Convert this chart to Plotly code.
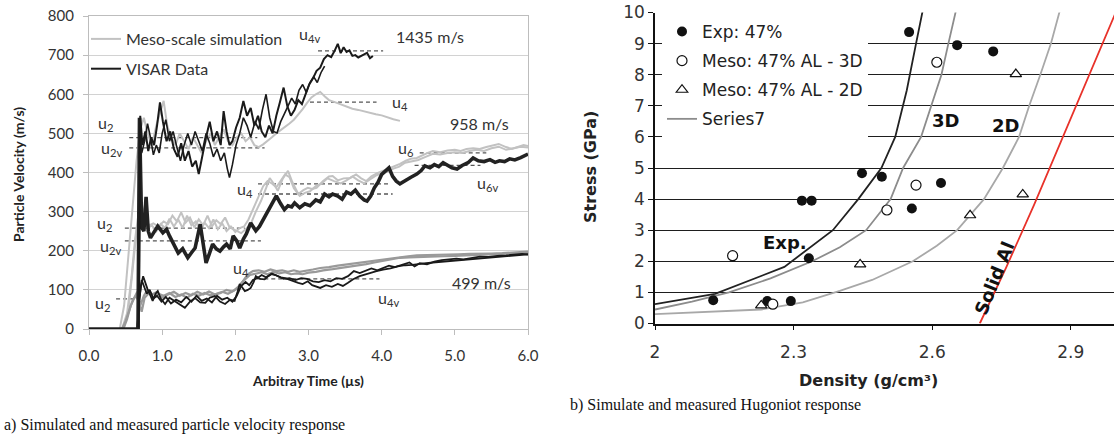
import plotly.graph_objects as go

# ---------------- (a) particle velocity data: (time us, velocity m/s) ----------------
visar_1435_a = [(0,0),(0.64,0),(0.68,0),(0.70,545),(0.73,470),(0.77,505),(0.81,455),(0.85,490),(0.89,470),(0.93,520),(0.97,579),(1.01,530),(1.06,480),(1.11,505),(1.16,460),(1.21,440),(1.26,475),(1.31,430),(1.36,455),(1.41,415),(1.46,430),(1.50,396),(1.55,445),(1.60,490),(1.65,530),(1.70,480),(1.75,505),(1.80,470),(1.84,557),(1.88,505),(1.92,470),(1.96,480),(2.01,515),(2.06,540),(2.11,583),(2.16,545),(2.21,565),(2.26,520),(2.31,545),(2.36,505),(2.41,490),(2.46,520),(2.51,500),(2.56,545),(2.61,580),(2.66,617),(2.71,570),(2.76,545),(2.81,560),(2.86,585),(2.91,575),(2.96,600),(3.01,625),(3.06,640),(3.11,660),(3.16,668),(3.21,690),(3.26,700),(3.31,695),(3.36,712),(3.40,729),(3.44,705),(3.48,720),(3.52,708),(3.56,712),(3.60,698),(3.64,700),(3.68,694),(3.72,697),(3.76,702),(3.80,706),(3.84,692),(3.88,698)]
visar_1435_b = [(0,0),(0.64,0),(0.67,0),(0.69,510),(0.72,450),(0.76,480),(0.80,525),(0.84,490),(0.88,445),(0.92,470),(0.96,450),(1.00,500),(1.05,535),(1.10,480),(1.15,505),(1.20,465),(1.25,430),(1.30,470),(1.35,500),(1.40,470),(1.45,505),(1.50,480),(1.55,455),(1.60,500),(1.65,475),(1.70,440),(1.75,460),(1.80,430),(1.85,450),(1.89,410),(1.92,387),(1.96,420),(2.01,470),(2.06,500),(2.11,540),(2.16,520),(2.21,490),(2.27,530),(2.32,510),(2.37,560),(2.42,600),(2.47,540),(2.52,505),(2.57,501),(2.62,530),(2.67,550),(2.72,570),(2.77,590),(2.82,575),(2.87,610),(2.92,625),(2.97,605),(3.02,630),(3.07,645),(3.12,630),(3.17,655),(3.22,672)]
meso_1435 = [(0,0),(0.42,0),(0.48,60),(0.54,190),(0.60,320),(0.65,430),(0.70,510),(0.75,540),(0.80,500),(0.86,470),(0.92,520),(0.98,560),(1.02,583),(1.07,520),(1.12,490),(1.18,470),(1.24,500),(1.30,480),(1.36,460),(1.42,490),(1.48,470),(1.54,450),(1.60,480),(1.66,500),(1.72,470),(1.78,490),(1.84,510),(1.90,480),(1.96,470),(2.02,490),(2.08,500),(2.14,480),(2.20,490),(2.26,470),(2.32,465),(2.38,472),(2.44,480),(2.50,490),(2.56,500),(2.62,508),(2.68,515),(2.74,525),(2.80,535),(2.86,548),(2.92,562),(2.98,578),(3.04,592),(3.10,600),(3.16,606),(3.22,595),(3.28,585),(3.36,580),(3.44,574),(3.52,570),(3.60,563),(3.68,560),(3.76,556),(3.84,552),(3.92,549),(4.00,546),(4.08,540),(4.16,536),(4.25,532)]

visar_958 = [(0,0),(0.64,0),(0.67,0),(0.69,540),(0.72,260),(0.75,250),(0.78,338),(0.81,250),(0.84,233),(0.88,245),(0.94,263),(1.01,246),(1.06,255),(1.10,238),(1.16,215),(1.22,194),(1.28,205),(1.35,182),(1.40,195),(1.45,207),(1.52,268),(1.56,215),(1.60,169),(1.65,195),(1.69,217),(1.74,205),(1.79,199),(1.84,210),(1.88,217),(1.93,205),(1.97,238),(2.02,225),(2.06,207),(2.11,230),(2.15,243),(2.21,271),(2.28,251),(2.33,262),(2.37,276),(2.42,290),(2.47,310),(2.52,325),(2.56,340),(2.62,320),(2.67,305),(2.72,315),(2.77,312),(2.81,322),(2.88,310),(2.95,320),(3.02,315),(3.10,330),(3.16,325),(3.22,345),(3.28,338),(3.33,345),(3.40,340),(3.46,332),(3.52,350),(3.58,345),(3.64,355),(3.70,340),(3.76,330),(3.80,327),(3.85,340),(3.90,361),(3.95,375),(4.00,395),(4.05,405),(4.10,412),(4.15,390),(4.20,378),(4.25,371),(4.32,380),(4.40,388),(4.48,396),(4.54,405),(4.59,417),(4.66,412),(4.72,420),(4.78,415),(4.84,425),(4.90,418),(4.96,412),(5.03,409),(5.10,418),(5.18,425),(5.25,437),(5.32,430),(5.40,428),(5.48,433),(5.55,426),(5.61,430),(5.68,428),(5.75,435),(5.82,432),(5.90,438),(6.00,447)]
meso_958_a = [(0,0),(0.45,0),(0.52,40),(0.58,130),(0.63,230),(0.68,300),(0.72,320),(0.76,290),(0.82,265),(0.88,270),(0.95,262),(1.02,275),(1.08,268),(1.14,290),(1.20,275),(1.26,298),(1.32,272),(1.38,285),(1.44,260),(1.50,280),(1.56,265),(1.62,290),(1.68,262),(1.74,278),(1.80,268),(1.86,285),(1.92,260),(1.98,255),(2.04,250),(2.08,245),(2.14,255),(2.21,268),(2.28,300),(2.35,327),(2.42,360),(2.47,386),(2.53,370),(2.58,353),(2.65,385),(2.72,404),(2.78,375),(2.86,345),(2.93,355),(2.99,361),(3.05,358),(3.11,361),(3.20,378),(3.28,390),(3.33,391),(3.40,380),(3.48,385),(3.57,386),(3.65,395),(3.72,385),(3.79,378),(3.86,390),(3.94,398),(4.02,404),(4.10,410),(4.18,418),(4.25,422),(4.33,430),(4.40,435),(4.48,437),(4.56,445),(4.63,450),(4.70,455),(4.80,452),(4.90,456),(5.00,458),(5.08,455),(5.16,460),(5.25,462),(5.34,460),(5.43,465),(5.52,470),(5.60,473),(5.70,465),(5.78,460),(5.86,465),(5.94,470),(6.00,468)]
meso_958_b = [(0,0),(0.47,0),(0.54,50),(0.60,150),(0.65,250),(0.70,295),(0.74,280),(0.80,258),(0.86,265),(0.92,250),(0.98,268),(1.04,258),(1.10,282),(1.16,262),(1.22,280),(1.28,258),(1.34,290),(1.40,265),(1.46,275),(1.52,252),(1.58,272),(1.64,258),(1.70,280),(1.76,255),(1.82,270),(1.88,250),(1.94,262),(2.00,248),(2.06,258),(2.12,262),(2.18,280),(2.25,310),(2.32,340),(2.38,365),(2.44,378),(2.50,372),(2.56,362),(2.62,378),(2.68,395),(2.74,388),(2.80,360),(2.88,340),(2.95,348),(3.02,352),(3.10,365),(3.18,372),(3.26,385),(3.35,378),(3.44,372),(3.52,380),(3.60,390),(3.68,380),(3.76,372),(3.84,382),(3.92,392),(4.00,398),(4.08,402),(4.16,410),(4.24,415),(4.32,425),(4.40,428),(4.50,432),(4.60,440),(4.70,448),(4.80,446),(4.90,450),(5.00,452),(5.10,450),(5.20,455),(5.30,458),(5.40,455),(5.50,462),(5.60,466),(5.70,458),(5.80,462),(5.90,466),(6.00,464)]

visar_499_a = [(0,0),(0.64,0),(0.66,0),(0.68,60),(0.71,110),(0.74,135),(0.77,115),(0.80,102),(0.84,85),(0.87,72),(0.91,90),(0.94,97),(0.98,78),(1.04,64),(1.10,80),(1.17,72),(1.24,62),(1.31,54),(1.38,70),(1.45,79),(1.52,68),(1.59,67),(1.65,80),(1.72,84),(1.79,70),(1.86,64),(1.93,75),(1.99,72),(2.03,95),(2.06,115),(2.10,105),(2.13,97),(2.17,100),(2.21,105),(2.25,120),(2.28,135),(2.34,128),(2.40,127),(2.45,135),(2.49,140),(2.55,138),(2.62,132),(2.68,130),(2.75,125),(2.81,120),(2.86,118),(2.92,115),(2.99,122),(3.05,112),(3.10,108),(3.16,105),(3.24,112),(3.32,108),(3.40,115),(3.47,110),(3.54,118),(3.61,127),(3.70,135),(3.78,140),(3.86,145),(3.93,148),(4.02,152),(4.12,155),(4.22,160),(4.32,163),(4.42,164),(4.48,166),(4.58,168),(4.70,170),(4.82,172),(4.93,174),(5.05,176),(5.18,178),(5.30,180),(5.38,182),(5.50,184),(5.62,186),(5.75,187),(5.88,189),(6.00,191)]
visar_499_b = [(0,0),(0.64,0),(0.66,0),(0.69,80),(0.72,125),(0.75,110),(0.79,90),(0.83,100),(0.88,78),(0.93,85),(0.99,70),(1.05,82),(1.12,65),(1.19,75),(1.26,68),(1.33,82),(1.40,70),(1.47,85),(1.54,72),(1.61,78),(1.68,68),(1.75,85),(1.82,75),(1.89,80),(1.96,70),(2.02,85),(2.08,110),(2.14,120),(2.19,112),(2.24,125),(2.30,130),(2.36,138),(2.42,132),(2.50,142),(2.58,135),(2.66,128),(2.74,130),(2.82,125),(2.90,130),(2.98,128),(3.06,122),(3.14,120),(3.22,125),(3.30,122),(3.38,130),(3.46,128),(3.54,135),(3.62,148),(3.70,143),(3.78,150),(3.86,155),(3.94,150),(4.02,156),(4.10,162),(4.18,158),(4.28,165),(4.38,170),(4.45,160),(4.52,168),(4.62,165),(4.72,172),(4.82,176),(4.92,178),(5.02,180),(5.12,178),(5.22,182),(5.34,185),(5.46,184),(5.58,187),(5.70,188),(5.82,190),(5.92,192),(6.00,190)]
meso_499_a = [(0,0),(0.45,0),(0.50,20),(0.55,50),(0.60,75),(0.64,85),(0.68,70),(0.72,44),(0.76,80),(0.82,92),(0.88,80),(0.95,90),(1.02,85),(1.10,92),(1.18,82),(1.26,88),(1.34,80),(1.42,90),(1.50,85),(1.58,92),(1.66,86),(1.74,90),(1.82,95),(1.90,90),(1.98,98),(2.05,110),(2.12,125),(2.20,138),(2.28,142),(2.36,145),(2.44,140),(2.52,146),(2.60,142),(2.68,145),(2.76,140),(2.84,142),(2.92,140),(3.00,144),(3.10,146),(3.20,150),(3.33,153),(3.45,156),(3.56,160),(3.68,163),(3.79,166),(3.90,170),(4.02,174),(4.14,178),(4.25,182),(4.38,183),(4.50,184),(4.62,186),(4.70,185),(4.85,186),(5.00,187),(5.15,188),(5.30,189),(5.45,190),(5.60,191),(5.75,192),(5.90,194),(6.00,195)]
meso_499_b = [(0,0),(0.47,0),(0.52,25),(0.57,60),(0.62,80),(0.66,95),(0.70,60),(0.75,85),(0.80,100),(0.86,88),(0.93,95),(1.00,80),(1.08,88),(1.16,95),(1.24,85),(1.32,92),(1.40,86),(1.48,95),(1.56,88),(1.64,96),(1.72,88),(1.80,92),(1.88,100),(1.96,96),(2.04,105),(2.10,120),(2.17,140),(2.24,148),(2.32,150),(2.40,146),(2.48,152),(2.56,148),(2.64,150),(2.72,146),(2.80,150),(2.88,146),(2.96,148),(3.06,152),(3.16,156),(3.28,158),(3.40,162),(3.52,165),(3.64,168),(3.76,172),(3.88,175),(4.00,178),(4.12,180),(4.24,183),(4.36,186),(4.48,188),(4.60,189),(4.75,190),(4.90,190),(5.05,191),(5.20,192),(5.35,192),(5.50,193),(5.65,194),(5.80,195),(5.92,197),(6.00,198)]

# dashed plateau markers: level (m/s), start and end time (us)
ref_level = [489, 463, 580, 711, 258, 225, 371, 345, 450, 418, 77, 128]
ref_t0    = [0.55, 0.55, 3.02, 3.13, 0.49, 0.49, 2.31, 2.31, 4.52, 4.45, 0.37, 2.30]
ref_t1    = [2.30, 2.40, 3.93, 4.02, 2.13, 2.35, 4.11, 4.15, 5.43, 5.35, 0.63, 3.97]

# ---------------- (b) Hugoniot data ----------------
exp_density = [2.550, 2.654, 2.732, 2.448, 2.491, 2.619, 2.318, 2.339, 2.556, 2.333, 2.126, 2.243, 2.294]
exp_stress  = [9.37, 8.95, 8.75, 4.83, 4.72, 4.52, 3.95, 3.95, 3.70, 2.10, 0.75, 0.72, 0.72]
meso3d_density = [2.610, 2.565, 2.502, 2.168, 2.255]
meso3d_stress  = [8.40, 4.45, 3.65, 2.18, 0.62]
meso2d_density = [2.781, 2.796, 2.682, 2.444, 2.230]
meso2d_stress  = [8.02, 4.15, 3.48, 1.90, 0.58]

expfit_density = [2.0, 2.13, 2.28, 2.385, 2.44, 2.49, 2.52, 2.545, 2.565, 2.58]
expfit_stress  = [0.62, 0.95, 1.82, 3.0, 4.0, 5.0, 6.0, 7.5, 9.0, 10.1]
fit3d_density = [2.0, 2.08, 2.16, 2.25, 2.34, 2.40, 2.457, 2.51, 2.537, 2.576, 2.598, 2.62, 2.635, 2.652]
fit3d_stress  = [0.45, 0.7, 1.0, 1.45, 2.0, 2.45, 3.0, 4.0, 5.0, 6.0, 7.0, 8.0, 9.0, 10.1]
fit2d_density = [2.0, 2.12, 2.23, 2.32, 2.40, 2.47, 2.52, 2.558, 2.61, 2.654, 2.712, 2.753, 2.788, 2.81, 2.834, 2.857, 2.877]
fit2d_stress  = [0.3, 0.38, 0.45, 0.68, 1.05, 1.4, 1.75, 2.0, 2.5, 3.0, 4.0, 5.0, 6.0, 7.0, 8.0, 9.0, 10.1]
solid_density = [2.703, 2.760, 2.820, 2.880, 2.940, 3.000]
solid_stress  = [0.0, 1.8, 3.8, 5.9, 8.0, 10.1]

W, H = 1114, 436
L_FONT = "Lato"
R_FONT = "DejaVu Sans"


def split(pairs):
    return [p[0] for p in pairs], [p[1] for p in pairs]


fig = go.Figure()

# dashed reference plateaus
for lv, a, b in zip(ref_level, ref_t0, ref_t1):
    fig.add_trace(go.Scatter(x=[a, b], y=[lv, lv], mode="lines", xaxis="x", yaxis="y",
                             line=dict(color="#555555", width=1.3, dash="4px,3px"),
                             showlegend=False, hoverinfo="skip"))

LIGHT = "#c2c2c2"
MID = "#9a9a9a"
for series, col, w in [(meso_958_b, LIGHT, 2.0), (meso_958_a, LIGHT, 2.0),
                       (meso_499_b, MID, 2.2), (meso_499_a, MID, 2.2)]:
    x, y = split(series)
    fig.add_trace(go.Scatter(x=x, y=y, mode="lines", xaxis="x", yaxis="y",
                             line=dict(color=col, width=w), showlegend=False))
x, y = split(meso_1435)
fig.add_trace(go.Scatter(x=x, y=y, mode="lines", xaxis="x", yaxis="y", name="Meso-scale simulation",
                         line=dict(color=LIGHT, width=2.0), legend="legend", legendgroup="g1"))

for series, w in [(visar_499_a, 1.8), (visar_499_b, 1.8), (visar_1435_b, 1.6)]:
    x, y = split(series)
    fig.add_trace(go.Scatter(x=x, y=y, mode="lines", xaxis="x", yaxis="y",
                             line=dict(color="#1a1a1a", width=w), showlegend=False))
x, y = split(visar_958)
fig.add_trace(go.Scatter(x=x, y=y, mode="lines", xaxis="x", yaxis="y",
                         line=dict(color="#222222", width=3.6), showlegend=False))
x, y = split(visar_1435_a)
fig.add_trace(go.Scatter(x=x, y=y, mode="lines", xaxis="x", yaxis="y", name="VISAR Data",
                         line=dict(color="#1a1a1a", width=2.0), legend="legend", legendgroup="g2"))

# ---------- right panel ----------
fig.add_trace(go.Scatter(x=solid_density, y=solid_stress, mode="lines", xaxis="x2", yaxis="y2",
                         line=dict(color="#e8322a", width=1.8), showlegend=False))
fig.add_trace(go.Scatter(x=fit2d_density, y=fit2d_stress, mode="lines", xaxis="x2", yaxis="y2",
                         line=dict(color="#a8a8a8", width=1.8), showlegend=False))
fig.add_trace(go.Scatter(x=fit3d_density, y=fit3d_stress, mode="lines", xaxis="x2", yaxis="y2",
                         name="Series7", line=dict(color="#8c8c8c", width=1.8),
                         legend="legend2", legendgroup="s7", legendrank=4))
fig.add_trace(go.Scatter(x=expfit_density, y=expfit_stress, mode="lines", xaxis="x2", yaxis="y2",
                         line=dict(color="#222222", width=1.8), showlegend=False))
fig.add_trace(go.Scatter(x=exp_density, y=exp_stress, mode="markers", xaxis="x2", yaxis="y2",
                         name="Exp: 47%", marker=dict(symbol="circle", size=10, color="#111111"),
                         legend="legend2", legendgroup="e", legendrank=1))
fig.add_trace(go.Scatter(x=meso3d_density, y=meso3d_stress, mode="markers", xaxis="x2", yaxis="y2",
                         name="Meso: 47% AL - 3D",
                         marker=dict(symbol="circle", size=10, color="white", line=dict(color="#111111", width=1.2)),
                         legend="legend2", legendgroup="m3", legendrank=2))
fig.add_trace(go.Scatter(x=meso2d_density, y=meso2d_stress, mode="markers", xaxis="x2", yaxis="y2",
                         name="Meso: 47% AL - 2D",
                         marker=dict(symbol="triangle-up", size=10, color="white", line=dict(color="#111111", width=1.2)),
                         legend="legend2", legendgroup="m2", legendrank=3))


def px_x(a, b):
    return [a / W, b / W]


def px_y(top, bottom):
    return [(H - bottom) / H, (H - top) / H]


ann = []
lf = dict(family=L_FONT, size=16, color="#333333")
left_labels = [
    ("u<sub>2</sub>", 0.23, 525), ("u<sub>2v</sub>", 0.31, 461), ("u<sub>4v</sub>", 3.02, 752),
    ("1435 m/s", 4.66, 748), ("u<sub>4</sub>", 4.25, 579), ("958 m/s", 5.34, 525),
    ("u<sub>6</sub>", 4.33, 461), ("u<sub>6v</sub>", 5.44, 371), ("u<sub>4</sub>", 2.13, 356),
    ("u<sub>2</sub>", 0.21, 269), ("u<sub>2v</sub>", 0.30, 210), ("u<sub>4</sub>", 2.08, 154),
    ("u<sub>2</sub>", 0.19, 64), ("u<sub>4v</sub>", 4.10, 77), ("499 m/s", 5.36, 118),
]
for t, xx, yy in left_labels:
    ann.append(dict(text=t, x=xx, y=yy, xref="x", yref="y", showarrow=False, font=lf,
                    xanchor="center", yanchor="middle"))

rb = dict(family=R_FONT, size=18, color="#111111", weight="bold")
for t, xx, yy, ang in [("3D", 2.628, 6.54, 0), ("2D", 2.758, 6.38, 0), ("Exp.", 2.281, 2.62, 0),
                       ("Solid Al", 2.734, 1.45, -68)]:
    ann.append(dict(text=t, x=xx, y=yy, xref="x2", yref="y2", showarrow=False, font=rb,
                    textangle=ang, xanchor="center", yanchor="middle"))


def paper_text(text, px, py, font, angle=0, xanchor="center"):
    return dict(text=text, x=px / W, y=1 - py / H, xref="paper", yref="paper", showarrow=False,
                textangle=angle, font=font, xanchor=xanchor, yanchor="middle")


lb = dict(family=L_FONT, size=14, color="#222", weight="bold")
rbt = dict(family=R_FONT, size=16, color="#222", weight="bold")
cap = dict(family="Liberation Serif", size=16, color="#111")
ann += [
    paper_text("Particle Velocity (m/s)", 18, 175, lb, -90),
    paper_text("Arbitray Time (µs)", 308, 380, lb),
    paper_text("Stress (GPa)", 590, 167, rbt, -90),
    paper_text("Density (g/cm³)", 868, 380, rbt),
    paper_text("a) Simulated and measured particle velocity response", 2, 425, cap, xanchor="left"),
    paper_text("b) Simulate and measured Hugoniot response", 568, 405, cap, xanchor="left"),
]

GRAYAX = "#bdbdbd"
fig.update_layout(
    width=W, height=H, margin=dict(l=0, r=0, t=0, b=0, autoexpand=False),
    paper_bgcolor="white", plot_bgcolor="white",
    xaxis=dict(domain=px_x(89, 528), range=[0, 6], tickvals=[0, 1, 2, 3, 4, 5, 6], tickformat=".1f",
               showgrid=False, showline=True, linecolor=GRAYAX, linewidth=1.2, mirror=True,
               ticks="outside", ticklen=5, tickcolor=GRAYAX, zeroline=False, anchor="y", automargin=False,
               ticklabelstandoff=8, tickfont=dict(family=L_FONT, size=15, color="#333")),
    yaxis=dict(domain=px_y(16, 329), range=[0, 800], dtick=100, showgrid=True, gridcolor="#d2d2d2",
               gridwidth=1.3, showline=True, linecolor=GRAYAX, linewidth=1.2, mirror=True,
               ticks="outside", ticklen=5, tickcolor=GRAYAX, zeroline=False, anchor="x", automargin=False,
               ticklabelstandoff=6, tickfont=dict(family=L_FONT, size=15, color="#333")),
    xaxis2=dict(domain=[655 / W, 1.0], range=[2, 2.9935], tickvals=[2, 2.3, 2.6, 2.9],
                ticktext=["2", "2.3", "2.6", "2.9"], showgrid=False, showline=True, linecolor="#111",
                linewidth=1.5, ticks="outside", ticklen=5, tickcolor="#111", zeroline=False, anchor="y2",
                automargin=False, ticklabelstandoff=7, tickfont=dict(family=R_FONT, size=17, color="#333")),
    yaxis2=dict(domain=px_y(12.5, 323.5), range=[0, 10], dtick=1, showgrid=True, gridcolor="#1e1e1e",
                gridwidth=1.3, showline=True, linecolor="#111", linewidth=1.5, ticks="outside", ticklen=5,
                tickcolor="#111", zeroline=False, anchor="x2", automargin=False,
                tickfont=dict(family=R_FONT, size=17, color="#333")),
    legend=dict(x=86 / W, y=1 - 22 / H, xanchor="left", yanchor="top", bgcolor="rgba(0,0,0,0)",
                font=dict(family=L_FONT, size=16, color="#333"), tracegroupgap=6, itemwidth=30),
    legend2=dict(x=662 / W, y=1 - 14 / H, xanchor="left", yanchor="top", bgcolor="white",
                 font=dict(family=R_FONT, size=17, color="#222"), tracegroupgap=4, itemwidth=30),
    annotations=ann,
)

fig.write_html("out.html", config={"displayModeBar": False},
               post_script="document.body.style.margin='0';document.body.style.padding='0';"
                           "document.documentElement.style.overflow='hidden';")
